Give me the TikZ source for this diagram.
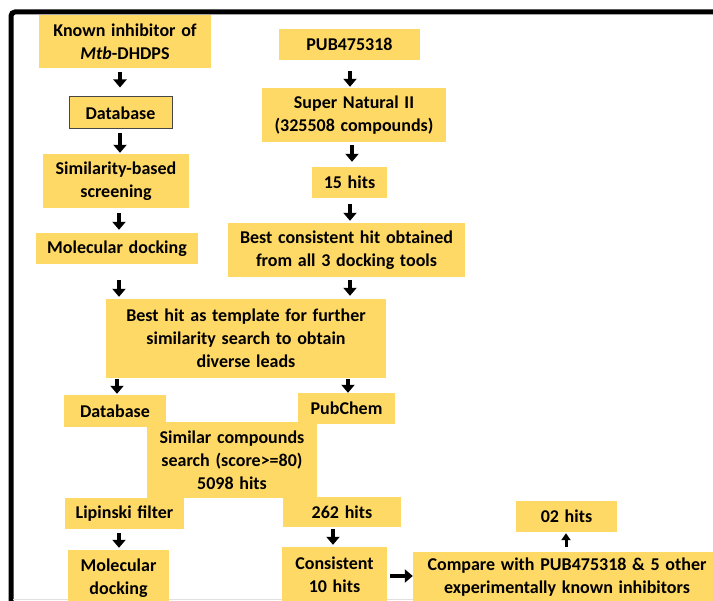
\documentclass[tikz,border=0pt]{standalone}
\usepackage{fontspec}
\setmainfont{Carlito}[WordSpace=1.4]
\usetikzlibrary{arrows.meta}
\definecolor{boxy}{RGB}{255,217,102}
\definecolor{edgegray}{RGB}{70,70,70}
\begin{document}
\begin{tikzpicture}[x=1pt,y=-1pt,
  every node/.style={font=\bfseries\fontsize{18}{23}\selectfont},
  box/.style={fill=boxy, inner sep=0pt, align=center},
  arr/.style={line width=4pt, -{Triangle[width=13pt,length=8pt]}},
  thinarr/.style={line width=3pt, -{Triangle[width=9pt,length=7pt]}},
  frame/.style={line width=5pt, rounded corners=4pt}]
\useasboundingbox (0,0) rectangle (713,601);
\clip (0,0) rectangle (713,601);
\fill[white] (0,0) rectangle (713,601);
% frame
\draw[frame] (11,640) -- (11,12) -- (760,12);
\draw[black!12, line width=1pt] (13,600) -- (713,600);
% column x coordinates
\coordinate (cA) at (120,0);
\coordinate (cB) at (119,0);
\coordinate (cC) at (350,0);
\coordinate (cD) at (352,0);
\coordinate (cE) at (117,0);
\coordinate (cF) at (348,0);
\coordinate (cG) at (333,0);
\coordinate (cH) at (566,0);
\coordinate (rY) at (0,576);
% left column
\node[box, minimum width=172, minimum height=53] (known) at (125,41.5) {Known inhibitor of\\\textit{Mtb}-DHDPS};
\node[box, draw=edgegray, line width=1pt, minimum width=103, minimum height=32] (db1) at (120.5,113) {Database};
\node[box, minimum width=146, minimum height=54] (sim) at (116,181) {Similarity-based\\screening};
\node[box, minimum width=162, minimum height=31] (mol1) at (117,248.5) {Molecular docking};
% right column
\node[box, minimum width=141, minimum height=31] (pub) at (349.5,44.5) {PUB475318};
\node[box, minimum width=184, minimum height=54] (sn) at (354,115) {Super Natural II\\(325508 compounds)};
\node[box, minimum width=75, minimum height=31] (h15) at (349.5,182.5) {15 hits};
\node[box, minimum width=237, minimum height=54] (bc) at (346.5,250) {Best consistent hit obtained\\from all 3 docking tools};
% middle
\node[box, minimum width=280, minimum height=79] (tmpl) at (246,338.5) {Best hit as template for further\\similarity search to obtain\\diverse leads};
\node[box, minimum width=102, minimum height=32] (db2) at (115,411) {Database};
\node[box, minimum width=97, minimum height=31] (pubchem) at (346.5,408.5) {PubChem};
\node[box, minimum width=170, minimum height=76] (simc) at (232,460) {Similar compounds\\search (score>=80)\\5098 hits};
\node[box, minimum width=119, minimum height=31] (lip) at (124.5,513.5) {Lipinski filter};
\node[box, minimum width=118, minimum height=30] (h262) at (342,512) {262 hits};
\node[box, minimum width=101, minimum height=56] (mol2) at (118.5,578) {Molecular\\docking};
\node[box, minimum width=105, minimum height=55] (cons) at (334.5,574.5) {Consistent\\10 hits};
\node[box, minimum width=308, minimum height=51] (cmp) at (567,577.5) {Compare with PUB475318 \& 5 other\\experimentally known inhibitors};
\node[box, minimum width=101, minimum height=31] (h02) at (566.5,516.5) {02 hits};
% arrows
\draw[arr, shorten <=4pt, shorten >=9pt] (known.south -| cA) -- (db1.north -| cA);
\draw[arr, shorten <=4pt, shorten >=1pt] (db1.south -| cA) -- (sim.north -| cA);
\draw[arr, shorten <=5pt, shorten >=3pt] (sim.south -| cB) -- (mol1.north -| cB);
\draw[arr, shorten <=16pt, shorten >=2pt] (mol1.south -| cB) -- (tmpl.north -| cB);
\draw[arr, shorten <=11pt, shorten >=1pt] (pub.south -| cC) -- (sn.north -| cC);
\draw[arr, shorten <=3pt, shorten >=5pt] (sn.south -| cD) -- (h15.north -| cD);
\draw[arr, shorten <=6pt, shorten >=2pt] (h15.south -| cC) -- (bc.north -| cC);
\draw[arr, shorten <=3pt, shorten >=3pt] (bc.south -| cC) -- (tmpl.north -| cC);
\draw[arr, shorten <=1pt, shorten >=1pt] (tmpl.south -| cE) -- (db2.north -| cE);
\draw[arr, shorten <=1pt, shorten >=0pt] (tmpl.south -| cF) -- (pubchem.north -| cF);
\draw[arr, shorten <=4pt, shorten >=2pt] (lip.south -| cB) -- (mol2.north -| cB);
\draw[arr, shorten <=2pt, shorten >=2pt] (h262.south -| cG) -- (cons.north -| cG);
\draw[arr, shorten <=3pt, shorten >=0pt] (cons.east |- rY) -- (cmp.west |- rY);
\draw[thinarr, shorten <=5pt, shorten >=1pt] (cmp.north -| cH) -- (h02.south -| cH);
\end{tikzpicture}
\end{document}
